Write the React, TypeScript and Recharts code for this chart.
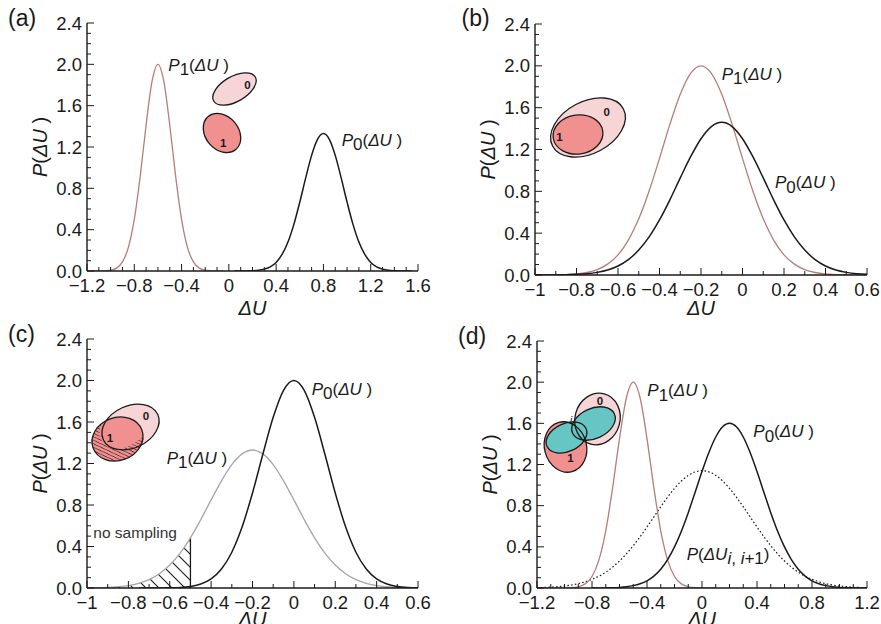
import React from 'react';
import { ComposedChart, Line, Area, XAxis, YAxis, ReferenceLine } from 'recharts';

const PAGE_W = 881;
const PAGE_H = 624;
const FONT = '"Liberation Sans", Arial, Helvetica, sans-serif';
const INK = '#1a1a1a';
const ROSE = '#b77c7c';
const GREY = '#a6a6a6';
const LIGHT = '#f7d5d7';
const SALMON = '#f09190';
const TEAL = '#66c6c3';

type Pt = [number, number];

// ---------- shared y axis ----------
const yLabels = [0, 0.4, 0.8, 1.2, 1.6, 2.0, 2.4];

// ---------- panel (a) ----------
const aXLabels = [-1.2, -0.8, -0.4, 0, 0.4, 0.8, 1.2, 1.6];
const aP1: Pt[] = [
  [-1.15, 0], [-1.1, 0], [-1.05, 0.002], [-1.0, 0.008], [-0.95, 0.028], [-0.9, 0.088], [-0.85, 0.228],
  [-0.8, 0.499], [-0.75, 0.916], [-0.7, 1.413], [-0.65, 1.834], [-0.6, 2.0], [-0.55, 1.834],
  [-0.5, 1.413], [-0.45, 0.916], [-0.4, 0.499], [-0.35, 0.228], [-0.3, 0.088], [-0.25, 0.028],
  [-0.2, 0.008], [-0.15, 0.002], [-0.1, 0], [-0.05, 0],
];
const aP0: Pt[] = [
  [0.05, 0], [0.1, 0], [0.15, 0.001], [0.2, 0.003], [0.25, 0.007], [0.3, 0.018], [0.35, 0.04],
  [0.4, 0.083], [0.45, 0.16], [0.5, 0.28], [0.55, 0.451], [0.6, 0.666], [0.65, 0.901], [0.7, 1.119],
  [0.75, 1.274], [0.8, 1.33], [0.85, 1.274], [0.9, 1.119], [0.95, 0.901], [1.0, 0.666], [1.05, 0.451],
  [1.1, 0.28], [1.15, 0.16], [1.2, 0.083], [1.25, 0.04], [1.3, 0.018], [1.35, 0.007], [1.4, 0.003],
  [1.45, 0.001], [1.5, 0], [1.55, 0],
];

// ---------- panel (b) ----------
const bXLabels = [-1, -0.8, -0.6, -0.4, -0.2, 0, 0.2, 0.4, 0.6];
const bP1: Pt[] = [
  [-1.0, 0], [-0.95, 0.001], [-0.9, 0.002], [-0.85, 0.004], [-0.8, 0.01], [-0.75, 0.024], [-0.7, 0.052],
  [-0.65, 0.104], [-0.6, 0.193], [-0.55, 0.334], [-0.5, 0.537], [-0.45, 0.803], [-0.4, 1.115],
  [-0.35, 1.44], [-0.3, 1.728], [-0.25, 1.928], [-0.2, 2.0], [-0.15, 1.928], [-0.1, 1.728],
  [-0.05, 1.44], [0, 1.115], [0.05, 0.803], [0.1, 0.537], [0.15, 0.334], [0.2, 0.193], [0.25, 0.104],
  [0.3, 0.052], [0.35, 0.024], [0.4, 0.01], [0.45, 0.004], [0.5, 0.002], [0.55, 0.001], [0.6, 0],
];
const bP0: Pt[] = [
  [-1.0, 0], [-0.95, 0], [-0.9, 0.001], [-0.85, 0.002], [-0.8, 0.006], [-0.75, 0.012], [-0.7, 0.025],
  [-0.65, 0.047], [-0.6, 0.086], [-0.55, 0.147], [-0.5, 0.238], [-0.45, 0.364], [-0.4, 0.526],
  [-0.35, 0.719], [-0.3, 0.928], [-0.25, 1.131], [-0.2, 1.303], [-0.15, 1.419], [-0.1, 1.46],
  [-0.05, 1.419], [0, 1.303], [0.05, 1.131], [0.1, 0.928], [0.15, 0.719], [0.2, 0.526], [0.25, 0.364],
  [0.3, 0.238], [0.35, 0.147], [0.4, 0.086], [0.45, 0.047], [0.5, 0.025], [0.55, 0.012], [0.6, 0.006],
];

// ---------- panel (c) ----------
const cXLabels = bXLabels;
const cP0: Pt[] = [
  [-0.75, 0], [-0.7, 0], [-0.65, 0], [-0.6, 0.002], [-0.55, 0.005], [-0.5, 0.015], [-0.45, 0.038],
  [-0.4, 0.088], [-0.35, 0.183], [-0.3, 0.345], [-0.25, 0.59], [-0.2, 0.916], [-0.15, 1.289],
  [-0.1, 1.645], [-0.05, 1.905], [0, 2.0], [0.05, 1.905], [0.1, 1.645], [0.15, 1.289], [0.2, 0.916],
  [0.25, 0.59], [0.3, 0.345], [0.35, 0.183], [0.4, 0.088], [0.45, 0.038], [0.5, 0.015], [0.55, 0.005],
  [0.6, 0.002],
];
const cP1: Pt[] = [
  [-1.0, 0.001], [-0.95, 0.002], [-0.9, 0.005], [-0.85, 0.012], [-0.8, 0.023], [-0.75, 0.045],
  [-0.7, 0.08], [-0.65, 0.137], [-0.6, 0.221], [-0.55, 0.336], [-0.5, 0.484], [-0.45, 0.659],
  [-0.4, 0.849], [-0.35, 1.033], [-0.3, 1.189], [-0.25, 1.293], [-0.2, 1.33], [-0.15, 1.293],
  [-0.1, 1.189], [-0.05, 1.033], [0, 0.849], [0.05, 0.659], [0.1, 0.484], [0.15, 0.336], [0.2, 0.221],
  [0.25, 0.137], [0.3, 0.08], [0.35, 0.045], [0.4, 0.023], [0.45, 0.012], [0.5, 0.005], [0.55, 0.002],
  [0.6, 0.001],
];
// samples below this energy are never visited
const cCutoff = -0.5;

// ---------- panel (d) ----------
const dXLabels = [-1.2, -0.8, -0.4, 0, 0.4, 0.8, 1.2];
const dP1: Pt[] = [
  [-1.1, 0], [-1.05, 0], [-1.0, 0.001], [-0.95, 0.003], [-0.9, 0.012], [-0.85, 0.04], [-0.8, 0.112],
  [-0.75, 0.271], [-0.7, 0.556], [-0.65, 0.974], [-0.6, 1.452], [-0.55, 1.846], [-0.5, 2.0],
  [-0.45, 1.846], [-0.4, 1.452], [-0.35, 0.974], [-0.3, 0.556], [-0.25, 0.271], [-0.2, 0.112],
  [-0.15, 0.04], [-0.1, 0.012], [-0.05, 0.003], [0, 0.001], [0.05, 0], [0.1, 0],
];
const dP0: Pt[] = [
  [-0.8, 0], [-0.75, 0], [-0.7, 0.001], [-0.65, 0.003], [-0.6, 0.006], [-0.55, 0.012], [-0.5, 0.023],
  [-0.45, 0.041], [-0.4, 0.07], [-0.35, 0.116], [-0.3, 0.183], [-0.25, 0.276], [-0.2, 0.399],
  [-0.15, 0.552], [-0.1, 0.732], [-0.05, 0.93], [0, 1.131], [0.05, 1.316], [0.1, 1.467], [0.15, 1.566],
  [0.2, 1.6], [0.25, 1.566], [0.3, 1.467], [0.35, 1.316], [0.4, 1.131], [0.45, 0.93], [0.5, 0.732],
  [0.55, 0.552], [0.6, 0.399], [0.65, 0.276], [0.7, 0.183], [0.75, 0.116], [0.8, 0.07], [0.85, 0.041],
  [0.9, 0.023], [0.95, 0.012], [1.0, 0.006], [1.05, 0.003], [1.1, 0.001], [1.15, 0], [1.2, 0],
];
const dPij: Pt[] = [
  [-1.2, 0.003], [-1.15, 0.005], [-1.1, 0.008], [-1.05, 0.013], [-1.0, 0.019], [-0.95, 0.029],
  [-0.9, 0.042], [-0.85, 0.06], [-0.8, 0.084], [-0.75, 0.115], [-0.7, 0.154], [-0.65, 0.203],
  [-0.6, 0.262], [-0.55, 0.332], [-0.5, 0.411], [-0.45, 0.499], [-0.4, 0.593], [-0.35, 0.691],
  [-0.3, 0.79], [-0.25, 0.883], [-0.2, 0.968], [-0.15, 1.04], [-0.1, 1.094], [-0.05, 1.128], [0, 1.14],
  [0.05, 1.128], [0.1, 1.094], [0.15, 1.04], [0.2, 0.968], [0.25, 0.883], [0.3, 0.79], [0.35, 0.691],
  [0.4, 0.593], [0.45, 0.499], [0.5, 0.411], [0.55, 0.332], [0.6, 0.262], [0.65, 0.203], [0.7, 0.154],
  [0.75, 0.115], [0.8, 0.084], [0.85, 0.06], [0.9, 0.042], [0.95, 0.029], [1.0, 0.019], [1.05, 0.013],
  [1.1, 0.008], [1.15, 0.005], [1.2, 0.003],
];

// ---------- helpers ----------
const tenths = (from: number, to: number) =>
  Array.from({ length: to - from + 1 }, (_, i) => (from + i) / 10);

function buildRows(series: Record<string, Pt[]>) {
  const map = new Map<string, any>();
  Object.entries(series).forEach(([name, pts]) => {
    pts.forEach(([x, y]) => {
      const k = x.toFixed(3);
      const row = map.get(k) ?? { x };
      row[name] = y;
      map.set(k, row);
    });
  });
  return Array.from(map.values()).sort((p, q) => p.x - q.x);
}

const isIn = (v: number, arr: number[]) => arr.some((a) => Math.abs(a - v) < 1e-6);

function fmtX(v: number) {
  if (Math.abs(v) < 1e-9) return '0';
  const s = Math.abs(v - Math.round(v)) < 1e-9 ? String(Math.round(v)) : v.toFixed(1);
  return s.replace('-', '\u2212');
}

const MAJOR = 7;
const MINOR = 4;
const TICK_FONT = 18.5;

function BottomTick(props: any) {
  const { x, y, payload, labels } = props;
  const v = payload.value as number;
  const major = isIn(v, labels);
  return (
    <g>
      <line x1={x} x2={x} y1={y} y2={y - (major ? MAJOR : MINOR)} stroke={INK} strokeWidth={1} />
      {major && (
        <text x={x} y={y + 21} textAnchor="middle" fontFamily={FONT} fontSize={TICK_FONT} fill={INK}>
          {fmtX(v)}
        </text>
      )}
    </g>
  );
}
function TopTick(props: any) {
  const { x, y, payload, labels } = props;
  const major = isIn(payload.value, labels);
  return <line x1={x} x2={x} y1={y} y2={y + (major ? MAJOR : MINOR)} stroke={INK} strokeWidth={1} />;
}
function LeftTick(props: any) {
  const { x, y, payload } = props;
  const v = payload.value as number;
  const major = isIn(v, yLabels);
  return (
    <g>
      <line x1={x} x2={x + (major ? MAJOR : MINOR)} y1={y} y2={y} stroke={INK} strokeWidth={1} />
      {major && (
        <text x={x - 5} y={y + 6.5} textAnchor="end" fontFamily={FONT} fontSize={TICK_FONT} fill={INK}>
          {v.toFixed(1)}
        </text>
      )}
    </g>
  );
}
function RightTick(props: any) {
  const { x, y, payload } = props;
  const major = isIn(payload.value, yLabels);
  return <line x1={x} x2={x - (major ? MAJOR : MINOR)} y1={y} y2={y} stroke={INK} strokeWidth={1} />;
}

type Plot = { L: number; R: number; T: number; B: number };
type Curve = { key: string; color: string; width: number; dash?: string };
type PanelCfg = {
  id: string;
  plot: Plot;
  xDomain: [number, number];
  xTicks: number[];
  xLabels: number[];
  rows: any[];
  curves: Curve[];
  extra?: React.ReactNode[];
};

const AXIS = { stroke: INK, strokeWidth: 1.4 };
const yTicks = tenths(0, 24);

function renderPanel(cfg: PanelCfg) {
  const { plot } = cfg;
  const margin = {
    left: plot.L - 60,
    top: plot.T,
    right: PAGE_W - plot.R,
    bottom: PAGE_H - plot.B - 30,
  };
  return (
    <div key={cfg.id} style={{ position: 'absolute', left: 0, top: 0 }}>
      <ComposedChart width={PAGE_W} height={PAGE_H} data={cfg.rows} margin={margin}>
        {cfg.extra}
        <XAxis
          dataKey="x" type="number" domain={cfg.xDomain} ticks={cfg.xTicks} interval={0}
          allowDataOverflow height={30} tickSize={0} tickMargin={0} tickLine={false} axisLine={AXIS}
          tick={(p: any) => <BottomTick {...p} labels={cfg.xLabels} />}
        />
        <XAxis
          xAxisId="top" orientation="top" dataKey="x" type="number" domain={cfg.xDomain}
          ticks={cfg.xTicks} interval={0} allowDataOverflow height={0} tickSize={0} tickMargin={0}
          tickLine={false} axisLine={AXIS}
          tick={(p: any) => <TopTick {...p} labels={cfg.xLabels} />}
        />
        <YAxis
          type="number" domain={[0, 2.4]} ticks={yTicks} interval={0} allowDataOverflow width={60}
          tickSize={0} tickMargin={0} tickLine={false} axisLine={AXIS}
          tick={(p: any) => <LeftTick {...p} />}
        />
        <YAxis
          yAxisId="right" orientation="right" type="number" domain={[0, 2.4]} ticks={yTicks}
          interval={0} allowDataOverflow width={0} tickSize={0} tickMargin={0} tickLine={false}
          axisLine={AXIS} tick={(p: any) => <RightTick {...p} />}
        />
        {cfg.curves.map((c) => (
          <Line
            key={c.key} dataKey={c.key} type="monotone" stroke={c.color} strokeWidth={c.width}
            strokeDasharray={c.dash} dot={false} activeDot={false} connectNulls={false}
            isAnimationActive={false}
          />
        ))}
      </ComposedChart>
    </div>
  );
}

// ---------- panel definitions ----------
const plotA: Plot = { L: 87, R: 418, T: 23, B: 271 };
const plotB: Plot = { L: 535, R: 867, T: 24, B: 275 };
const plotC: Plot = { L: 87, R: 418, T: 339, B: 588 };
const plotD: Plot = { L: 537, R: 867, T: 341, B: 588 };

const cHatch = cP1.filter(([x]) => x <= cCutoff + 1e-9);
const cCutoffValue = (cP1.find(([x]) => Math.abs(x - cCutoff) < 1e-9) ?? [cCutoff, 0])[1];

const panels: PanelCfg[] = [
  {
    id: 'a', plot: plotA, xDomain: [-1.2, 1.6], xTicks: tenths(-12, 16), xLabels: aXLabels,
    rows: buildRows({ p1: aP1, p0: aP0 }),
    curves: [
      { key: 'p1', color: ROSE, width: 1.3 },
      { key: 'p0', color: INK, width: 1.5 },
    ],
  },
  {
    id: 'b', plot: plotB, xDomain: [-1, 0.6], xTicks: tenths(-10, 6), xLabels: bXLabels,
    rows: buildRows({ p1: bP1, p0: bP0 }),
    curves: [
      { key: 'p1', color: ROSE, width: 1.3 },
      { key: 'p0', color: INK, width: 1.5 },
    ],
  },
  {
    id: 'c', plot: plotC, xDomain: [-1, 0.6], xTicks: tenths(-10, 6), xLabels: cXLabels,
    rows: buildRows({ p1: cP1, p0: cP0, hatch: cHatch }),
    curves: [
      { key: 'p1', color: GREY, width: 1.3 },
      { key: 'p0', color: INK, width: 1.5 },
    ],
    extra: [
      <defs key="defs">
        <pattern id="noSampleHatch" patternUnits="userSpaceOnUse" width={13} height={13}>
          <path d="M0,0 L13,13 M-3,10 L3,16 M10,-3 L16,3" stroke={INK} strokeWidth={1.1} />
        </pattern>
      </defs>,
      <Area
        key="hatch" dataKey="hatch" type="monotone" stroke="none" fill="url(#noSampleHatch)"
        fillOpacity={1} connectNulls={false} isAnimationActive={false} activeDot={false}
      />,
      <ReferenceLine
        key="cut" segment={[{ x: cCutoff, y: 0 }, { x: cCutoff, y: cCutoffValue }]}
        stroke={INK} strokeWidth={1.3}
      />,
    ],
  },
  {
    id: 'd', plot: plotD, xDomain: [-1.2, 1.2], xTicks: tenths(-12, 12), xLabels: dXLabels,
    rows: buildRows({ p1: dP1, p0: dP0, pij: dPij }),
    curves: [
      { key: 'pij', color: INK, width: 1.2, dash: '1.6 2.2' },
      { key: 'p1', color: ROSE, width: 1.3 },
      { key: 'p0', color: INK, width: 1.5 },
    ],
  },
];

// ---------- annotations ----------
function CurveTag({ x, y, sub }: { x: number; y: number; sub: string }) {
  return (
    <text x={x} y={y} fontFamily={FONT} fontSize={17} fill={INK}>
      <tspan fontStyle="italic">P</tspan>
      <tspan dy={4.5}>{sub}</tspan>
      <tspan dy={-4.5}>(</tspan>
      <tspan fontStyle="italic">ΔU</tspan>
      <tspan>{'\u00a0)'}</tspan>
    </text>
  );
}

function PairTag({ x, y }: { x: number; y: number }) {
  return (
    <text x={x} y={y} fontFamily={FONT} fontSize={17} fill={INK}>
      <tspan fontStyle="italic">P</tspan>
      <tspan>(</tspan>
      <tspan fontStyle="italic">ΔU</tspan>
      <tspan dy={4.5} fontStyle="italic">i</tspan>
      <tspan>{', '}</tspan>
      <tspan fontStyle="italic">i</tspan>
      <tspan>+1</tspan>
      <tspan dy={-4.5}>)</tspan>
    </text>
  );
}

function AxisTitles({ plot, xBase }: { plot: Plot; xBase: number }) {
  const cx = (plot.L + plot.R) / 2;
  const cy = (plot.T + plot.B) / 2;
  const bx = plot.L - 40;
  return (
    <g fontFamily={FONT} fontSize={20} fill={INK}>
      <text x={cx} y={xBase} textAnchor="middle" fontStyle="italic">ΔU</text>
      <text transform={`translate(${bx},${cy}) rotate(-90)`} textAnchor="middle">
        <tspan fontStyle="italic">P</tspan>
        <tspan>(</tspan>
        <tspan fontStyle="italic">ΔU</tspan>
        <tspan>{'\u00a0)'}</tspan>
      </text>
    </g>
  );
}

type E = { cx: number; cy: number; rx: number; ry: number; rot: number };
const ellipseProps = (e: E) => ({
  cx: e.cx, cy: e.cy, rx: e.rx, ry: e.ry, transform: `rotate(${e.rot} ${e.cx} ${e.cy})`,
});
const OUT = { stroke: INK, strokeWidth: 1.3 };

// state sketches
const aS0: E = { cx: 234.5, cy: 89, rx: 24, ry: 12.5, rot: -30 };
const aS1: E = { cx: 222, cy: 133, rx: 21.5, ry: 16.5, rot: 50 };
const bS0: E = { cx: 588, cy: 127.5, rx: 40, ry: 26, rot: -28 };
const bS1: E = { cx: 578, cy: 134.5, rx: 25, ry: 19.5, rot: -8 };
const cS0: E = { cx: 130.5, cy: 427, rx: 30, ry: 21, rot: -25 };
const cS1: E = { cx: 117.5, cy: 439, rx: 26, ry: 21.5, rot: -20 };
const dS0: E = { cx: 597.5, cy: 419, rx: 22.5, ry: 26, rot: 15 };
const dS1: E = { cx: 565.5, cy: 447, rx: 21, ry: 25.5, rot: -15 };
const dSa: E = { cx: 566.5, cy: 437.5, rx: 21.5, ry: 14, rot: -25 };
const dSb: E = { cx: 593.5, cy: 423.5, rx: 23, ry: 15, rot: -25 };

function StateLabel({ x, y, t, italic }: { x: number; y: number; t: string; italic?: boolean }) {
  return (
    <text x={x} y={y} textAnchor="middle" fontFamily={FONT} fontSize={11.5}
      fontWeight={italic ? 'normal' : 'bold'} fontStyle={italic ? 'italic' : 'normal'} fill={INK}>
      {t}
    </text>
  );
}

function Overlay() {
  return (
    <svg width={PAGE_W} height={PAGE_H} style={{ position: 'absolute', left: 0, top: 0 }}>
      <defs>
        <pattern id="stateHatch" patternUnits="userSpaceOnUse" width={4.5} height={4.5}>
          <path d="M0,0 L4.5,4.5 M-1,3.5 L1,5.5 M3.5,-1 L5.5,1" stroke="#3a2020" strokeWidth={0.9} />
        </pattern>
        <clipPath id="cState0Clip">
          <ellipse {...ellipseProps(cS0)} />
        </clipPath>
      </defs>

      {/* panel letters */}
      <g fontFamily={FONT} fontSize={23} fill={INK}>
        <text x={8} y={25.5}>(a)</text>
        <text x={461.5} y={25.5}>(b)</text>
        <text x={8} y={342}>(c)</text>
        <text x={458} y={343.5}>(d)</text>
      </g>

      <AxisTitles plot={plotA} xBase={315} />
      <AxisTitles plot={plotB} xBase={315} />
      <AxisTitles plot={plotC} xBase={626} />
      <AxisTitles plot={plotD} xBase={626} />

      {/* curve tags */}
      <CurveTag x={168.3} y={70.5} sub="1" />
      <CurveTag x={341.7} y={145.5} sub="0" />
      <CurveTag x={721.7} y={79.8} sub="1" />
      <CurveTag x={775} y={188} sub="0" />
      <CurveTag x={311.7} y={394.8} sub="0" />
      <CurveTag x={166.7} y={463.8} sub="1" />
      <CurveTag x={647.3} y={396} sub="1" />
      <CurveTag x={753.3} y={437} sub="0" />
      <PairTag x={686.7} y={559.5} />
      <text x={93.3} y={538} fontFamily={FONT} fontSize={15.5} fill="#333">no sampling</text>

      {/* (a) two separate states */}
      <ellipse {...ellipseProps(aS0)} fill={LIGHT} {...OUT} />
      <ellipse {...ellipseProps(aS1)} fill={SALMON} {...OUT} />
      <StateLabel x={247.5} y={88.5} t="0" />
      <StateLabel x={223.3} y={147} t="1" />

      {/* (b) state 1 inside state 0 */}
      <ellipse {...ellipseProps(bS0)} fill={LIGHT} {...OUT} />
      <ellipse {...ellipseProps(bS1)} fill={SALMON} {...OUT} />
      <StateLabel x={606.7} y={115.7} t="0" />
      <StateLabel x={559.5} y={141} t="1" />

      {/* (c) partial overlap, unsampled part hatched */}
      <ellipse {...ellipseProps(cS0)} fill={LIGHT} />
      <ellipse {...ellipseProps(cS1)} fill={SALMON} />
      <ellipse {...ellipseProps(cS1)} fill="url(#stateHatch)" />
      <ellipse {...ellipseProps(cS1)} fill={SALMON} clipPath="url(#cState0Clip)" />
      <ellipse {...ellipseProps(cS0)} fill="none" {...OUT} />
      <ellipse {...ellipseProps(cS1)} fill="none" {...OUT} />
      <StateLabel x={146} y={420} t="0" />
      <StateLabel x={110} y={441.5} t="1" />

      {/* (d) intermediate states bridging 0 and 1 */}
      <ellipse {...ellipseProps(dS0)} fill={LIGHT} />
      <ellipse {...ellipseProps(dS1)} fill={SALMON} />
      <ellipse {...ellipseProps(dSa)} fill={TEAL} />
      <ellipse {...ellipseProps(dSb)} fill={TEAL} />
      <ellipse {...ellipseProps(dS0)} fill="none" {...OUT} />
      <ellipse {...ellipseProps(dS1)} fill="none" {...OUT} />
      <ellipse {...ellipseProps(dSa)} fill="none" {...OUT} />
      <ellipse {...ellipseProps(dSb)} fill="none" {...OUT} />
      <StateLabel x={600} y={405} t="0" />
      <StateLabel x={570.5} y={462} t="1" />
      <StateLabel x={571} y={423.5} t="i" italic />
    </svg>
  );
}

export default function App() {
  return (
    <div
      style={{
        position: 'absolute', left: 0, top: 0, width: PAGE_W, height: PAGE_H,
        background: '#ffffff', overflow: 'hidden',
      }}
    >
      {panels.map(renderPanel)}
      <Overlay />
    </div>
  );
}
